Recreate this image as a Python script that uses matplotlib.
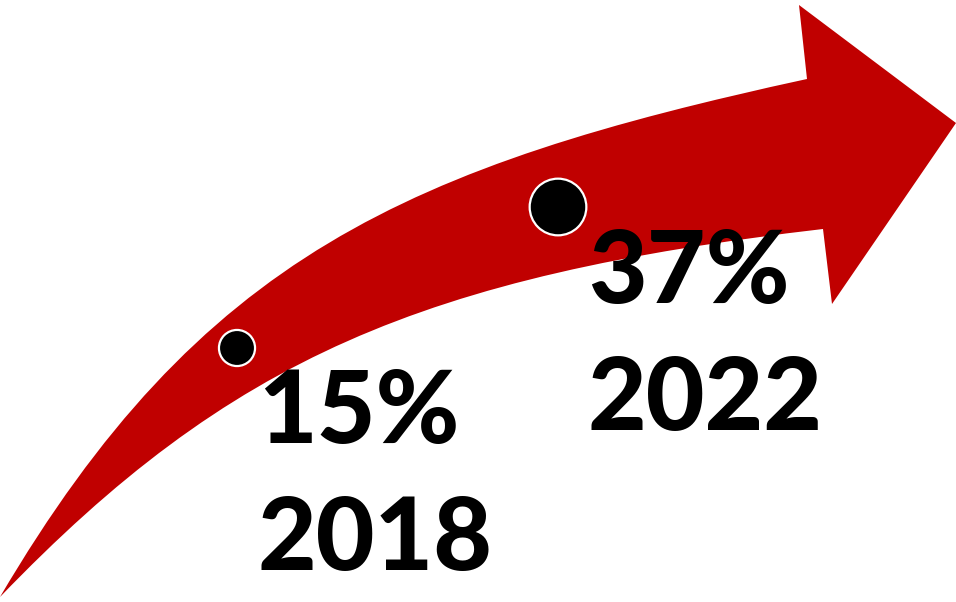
import matplotlib.pyplot as plt
from matplotlib.path import Path
from matplotlib.patches import PathPatch

# values shown on the arrow
years = [2018, 2022]
shares = [15, 37]
labels = ["15%", "37%"]

# where each milestone sits along the arrow (pixel coords, y down)
dot_x = [237, 558]
dot_y = [348, 207]
text_x = [258, 588]
text_base = [443, 303]

fig = plt.figure(figsize=(9.56, 6.02), dpi=100)
ax = fig.add_axes([0, 0, 1, 1])
ax.set_xlim(0, 956)
ax.set_ylim(602, 0)
ax.axis("off")

# curved arrow: upper edge, head, lower edge back to the tail
verts = [
    (0, 597), (200, 257), (407, 166), (807, 79),
    (799, 5), (956, 123), (832, 304), (823, 229),
    (423, 276), (230, 358), (0, 597),
    (0, 597),
]
codes = [Path.MOVETO, Path.CURVE4, Path.CURVE4, Path.CURVE4,
         Path.LINETO, Path.LINETO, Path.LINETO, Path.LINETO,
         Path.CURVE4, Path.CURVE4, Path.CURVE4,
         Path.CLOSEPOLY]
ax.add_patch(PathPatch(Path(verts, codes), facecolor="#C00000", edgecolor="none"))

# dot area roughly follows the share
sizes = [s * 45 for s in shares]
ax.scatter(dot_x, dot_y, s=sizes, c="black", edgecolors="white", linewidths=1.6, zorder=3)

font = dict(fontsize=73, fontweight=900, family=["Lato", "DejaVu Sans"],
            va="baseline", ha="left", zorder=4)
for i in range(len(years)):
    ax.text(text_x[i], text_base[i], labels[i], **font)
    ax.text(text_x[i], text_base[i] + 127, str(years[i]), **font)

fig.savefig("out.png", dpi=100)
